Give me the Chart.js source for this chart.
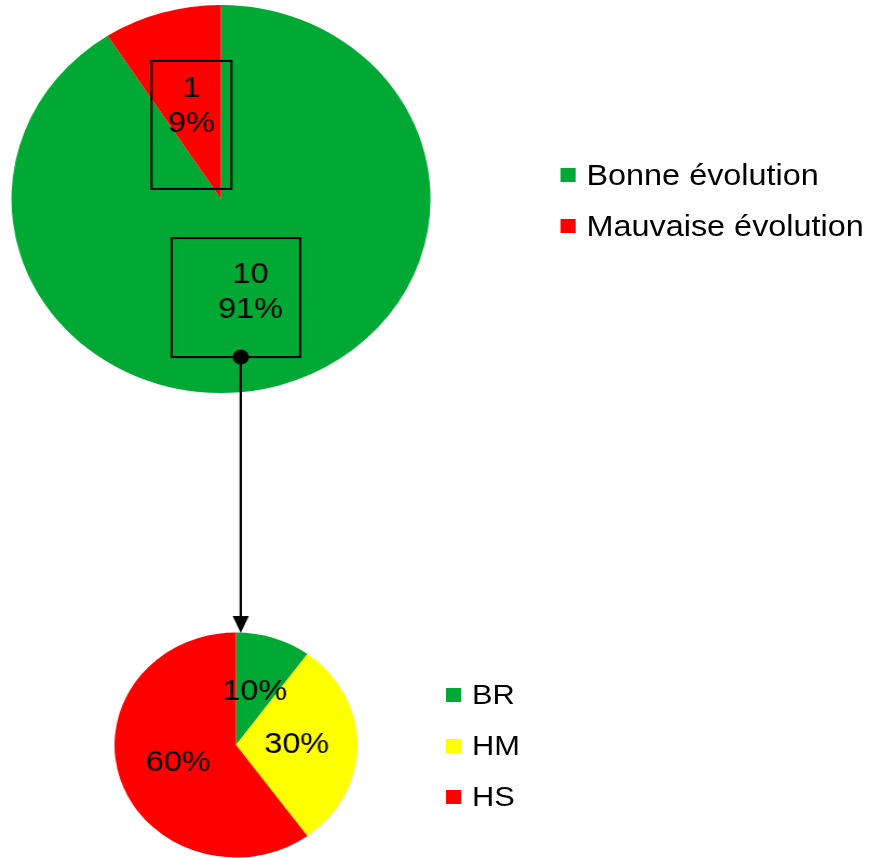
<!DOCTYPE html>
<html>
<head>
<meta charset="utf-8">
<script src="https://cdn.jsdelivr.net/npm/chart.js"></script>
<style>
    html, body { margin: 0; padding: 0; background: #fff; overflow: hidden; }
    /* the whole picture is a bit wider than tall, so stretch it horizontally */
    #page { position: absolute; left: 0; top: 0; width: 805px; height: 858px; transform: scaleX(1.08); transform-origin: 0 0; font-family: "Liberation Sans", Arial, sans-serif; }
    #chart1 { position: absolute; left: 0; top: 0; z-index: 2; }
    #chart2 { position: absolute; left: 0; top: 620px; z-index: 1; }
    .legend { position: absolute; color: #000; }
    .legend div { height: 51px; display: flex; align-items: center; white-space: nowrap; }
    .legend span { display: inline-block; width: 14px; height: 14px; margin-right: 10px; }
</style>
</head>
<body>
<div id="page">
    <canvas id="chart1" width="410" height="634"></canvas>
    <canvas id="chart2" width="420" height="238"></canvas>
    <div id="legend1" class="legend" style="left:519px; top:149px; font-size:30px;"></div>
    <div id="legend2" class="legend" style="left:413px; top:669px; font-size:28.5px;"></div>
</div>
<script>
var evolutionLabels = ["Bonne évolution", "Mauvaise évolution"];
var evolutionValues = [10, 1];
var evolutionColors = ["#00a933", "#ff0000"];

var typeLabels = ["BR", "HM", "HS"];
var typeValues = [10, 30, 60];
var typeColors = ["#00a933", "#ffff00", "#ff0000"];

// labels in the slices, with the frames and the arrow of the top pie
var pieLabels = {
    id: 'pieLabels',
    afterDatasetsDraw: function (chart, args, opts) {
        var ctx = chart.ctx;
        var values = chart.data.datasets[0].data;
        var total = values.reduce(function (a, b) { return a + b; }, 0);
        var arcs = chart.getDatasetMeta(0).data;
        ctx.save();
        ctx.font = opts.font;
        ctx.fillStyle = '#000';
        ctx.strokeStyle = '#000';
        ctx.lineWidth = 2;
        ctx.textAlign = 'center';
        ctx.textBaseline = 'middle';
        arcs.forEach(function (arc, i) {
            var p = arc.tooltipPosition();
            var pct = Math.round(values[i] / total * 100) + '%';
            var lines = opts.showValue ? [String(values[i]), pct] : [pct];
            lines.forEach(function (t, k) {
                ctx.fillText(t, p.x, p.y + (k - (lines.length - 1) / 2) * opts.lineHeight);
            });
            var b = opts.boxes && opts.boxes[i];
            if (b) {
                ctx.strokeRect(p.x + b[0], p.y + b[1], b[2] - b[0], b[3] - b[1]);
            }
        });
        if (opts.link) {
            var a = arcs[opts.link.index].tooltipPosition();
            var bx = opts.boxes[opts.link.index];
            var x = a.x + opts.link.dx;
            var y0 = a.y + bx[3];
            var y1 = chart.height - 1;
            ctx.lineWidth = 2.2;
            ctx.beginPath();
            ctx.moveTo(x, y0);
            ctx.lineTo(x, y1 - 14);
            ctx.stroke();
            ctx.beginPath();
            ctx.arc(x, y0, 7.5, 0, Math.PI * 2);
            ctx.fill();
            ctx.beginPath();
            ctx.moveTo(x - 7.5, y1 - 17);
            ctx.lineTo(x + 7.5, y1 - 17);
            ctx.lineTo(x, y1);
            ctx.closePath();
            ctx.fill();
        }
        ctx.restore();
    }
};

function buildLegend(id, labels, colors) {
    var el = document.getElementById(id);
    labels.forEach(function (l, i) {
        var row = document.createElement('div');
        var sq = document.createElement('span');
        sq.style.background = colors[i];
        row.appendChild(sq);
        row.appendChild(document.createTextNode(l));
        el.appendChild(row);
    });
}

new Chart(document.getElementById("chart1").getContext("2d"), {
    type: 'pie',
    data: {
        labels: evolutionLabels,
        datasets: [{ data: evolutionValues, backgroundColor: evolutionColors, borderWidth: 0 }]
    },
    options: {
        responsive: false,
        animation: false,
        events: [],
        layout: { padding: { left: 10.6, right: 11.4, top: 5, bottom: 241 } },
        plugins: {
            legend: { display: false },
            tooltip: { enabled: false },
            pieLabels: {
                font: '30px "Liberation Sans", Arial, sans-serif',
                lineHeight: 35,
                showValue: true,
                boxes: [[-73, -54, 46, 65], [-37, -45, 37, 83]],
                link: { index: 0, dx: -9 }
            }
        }
    },
    plugins: [pieLabels]
});

new Chart(document.getElementById("chart2").getContext("2d"), {
    type: 'pie',
    data: {
        labels: typeLabels,
        datasets: [{ data: typeValues, backgroundColor: typeColors, borderWidth: 0 }]
    },
    options: {
        responsive: false,
        animation: false,
        events: [],
        layout: { padding: { left: 106, right: 89, top: 12.5, bottom: 0.5 } },
        plugins: {
            legend: { display: false },
            tooltip: { enabled: false },
            pieLabels: {
                font: '30px "Liberation Sans", Arial, sans-serif',
                lineHeight: 35,
                showValue: false
            }
        }
    },
    plugins: [pieLabels]
});

buildLegend('legend1', evolutionLabels, evolutionColors);
buildLegend('legend2', typeLabels, typeColors);
</script>
</body>
</html>
